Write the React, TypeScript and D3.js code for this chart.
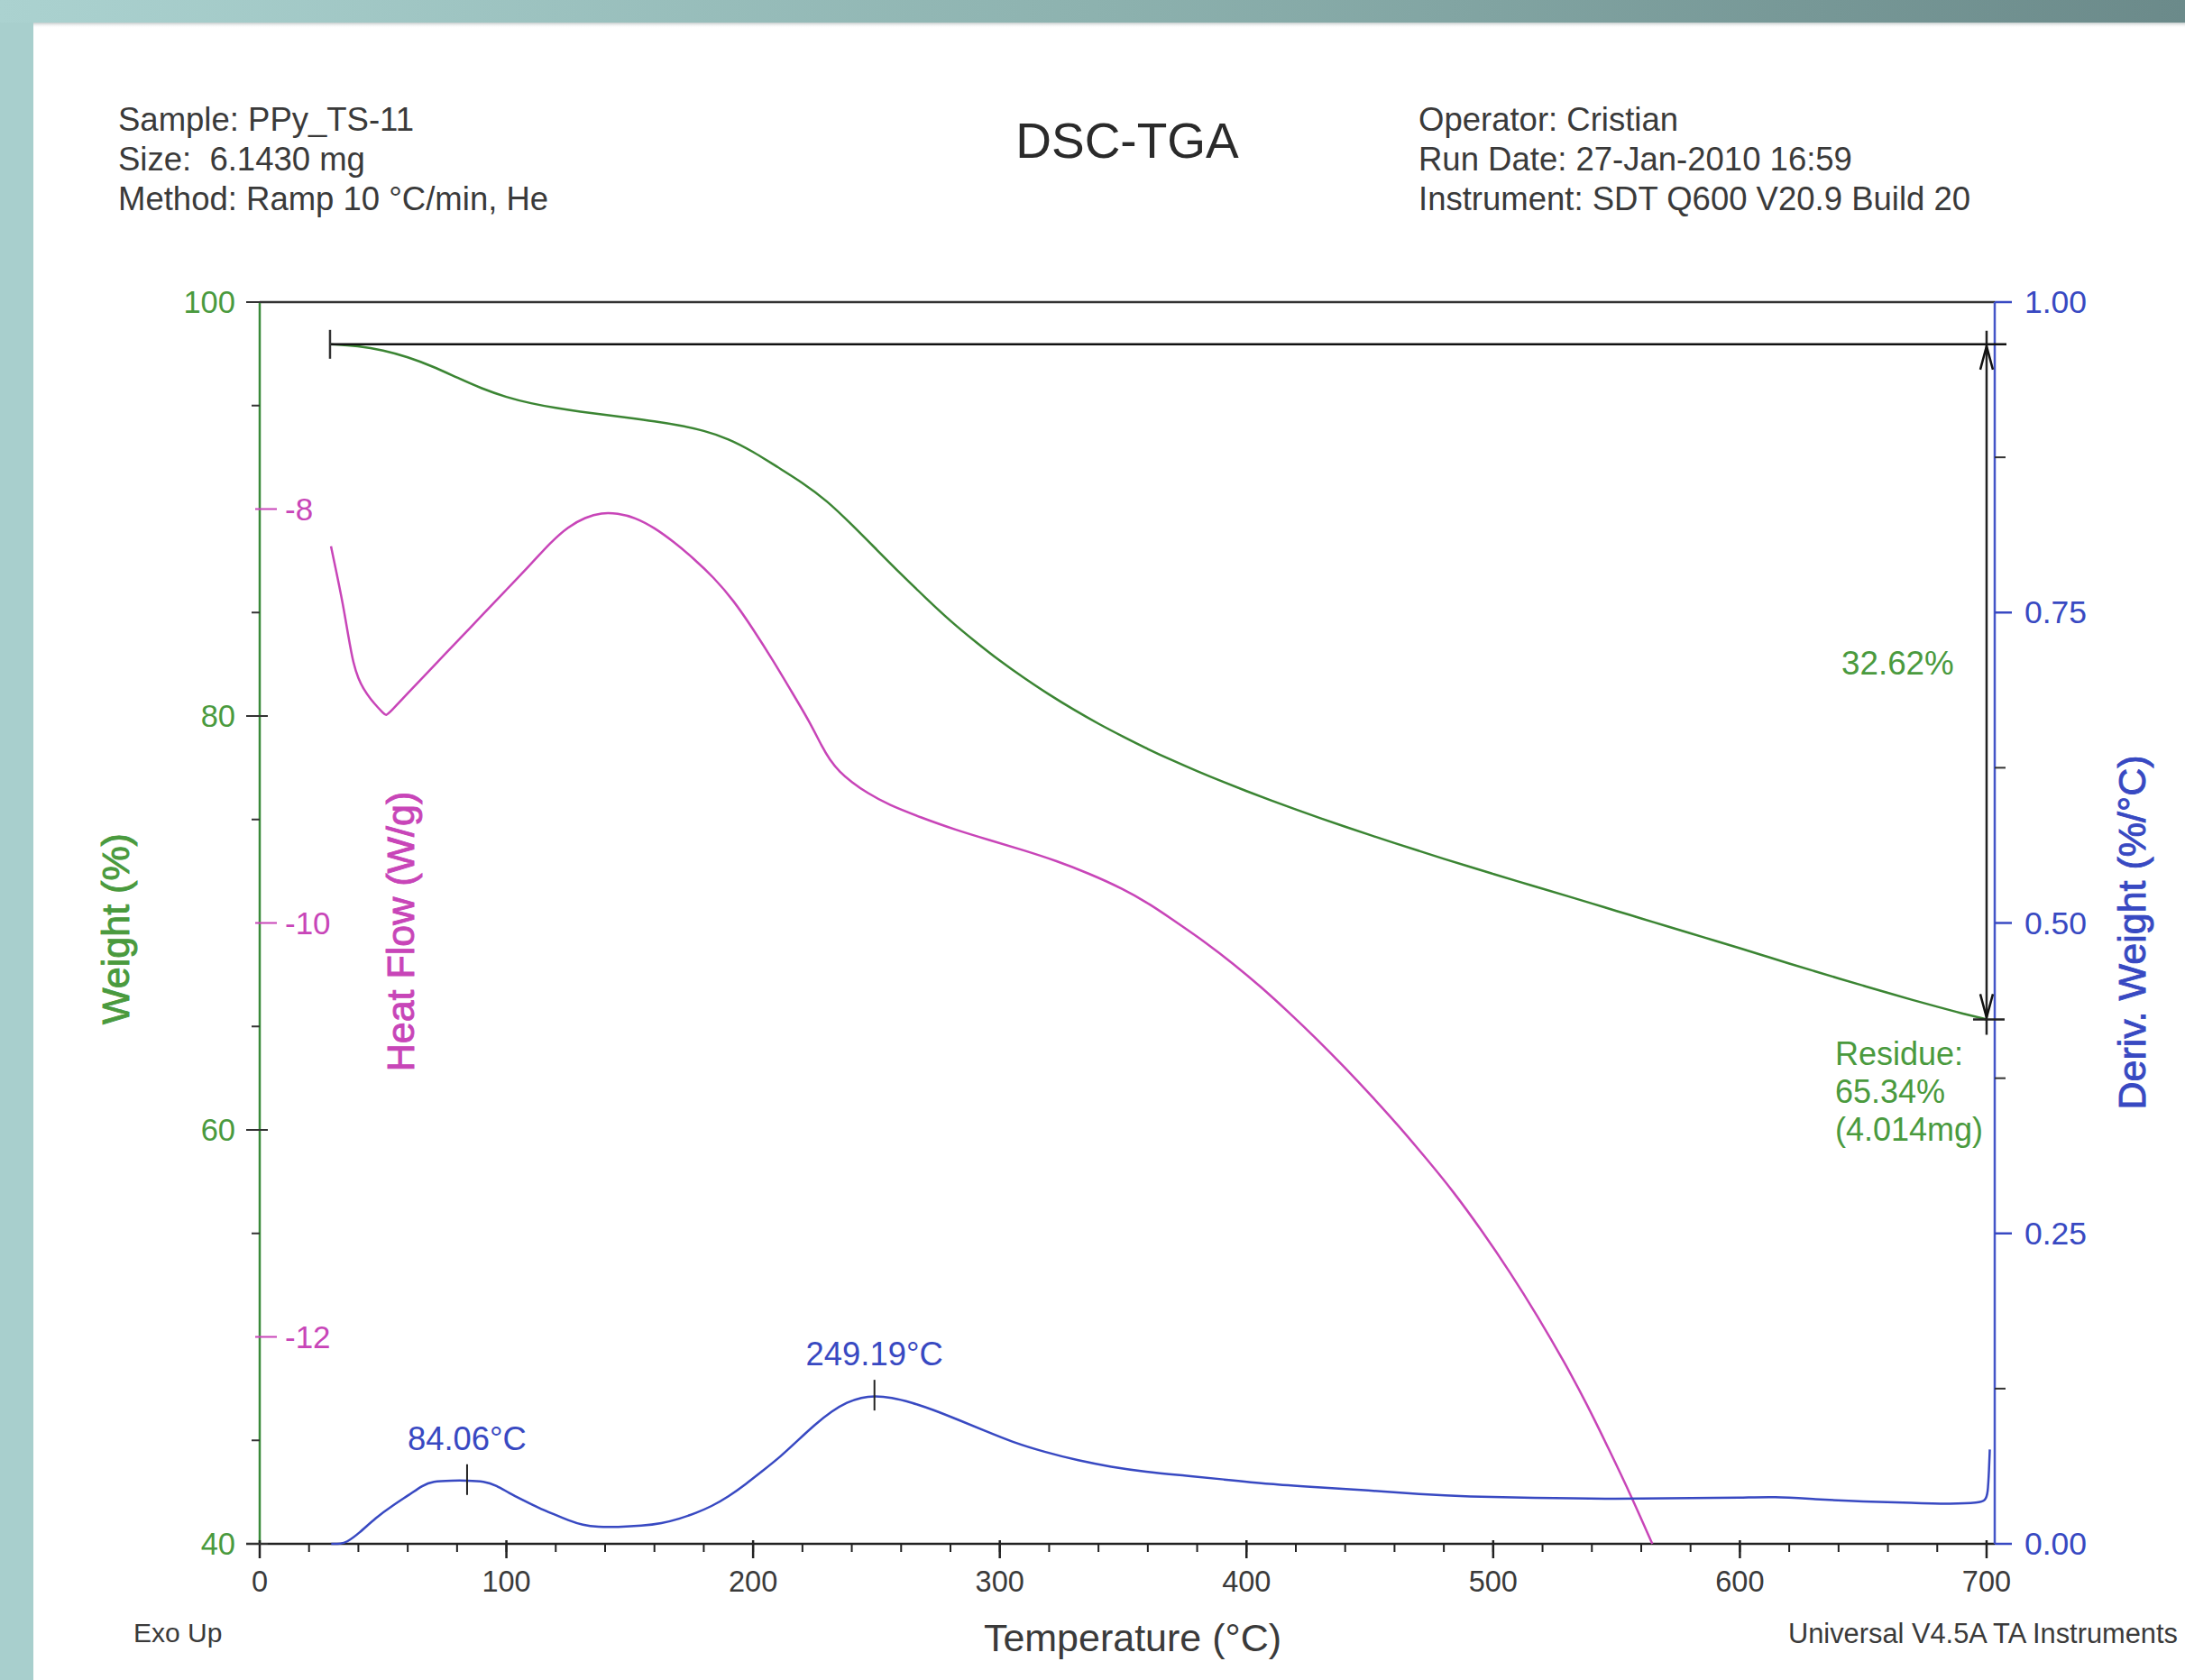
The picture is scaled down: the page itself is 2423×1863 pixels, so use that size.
import React from "react";
import * as d3 from "d3";

// ---------- data ----------
const headerLeft = ["Sample: PPy_TS-11", "Size:  6.1430 mg", "Method: Ramp 10 °C/min, He"];
const headerRight = ["Operator: Cristian", "Run Date: 27-Jan-2010 16:59", "Instrument: SDT Q600 V20.9 Build 20"];
const chartTitle = "DSC-TGA";

// Weight (%) vs Temperature (°C)
const weightCurve: [number, number][] = [
  [28.5, 97.96], [40, 97.88], [50, 97.68], [60, 97.35], [70, 96.9], [80, 96.35], [90, 95.82],
  [100, 95.4], [110, 95.1], [120, 94.88], [130, 94.7], [140, 94.55], [150, 94.4], [160, 94.24],
  [170, 94.05], [180, 93.8], [190, 93.4], [200, 92.78], [210, 92.02], [220, 91.28], [230, 90.4],
  [240, 89.25], [250, 88.05], [260, 86.85], [270, 85.7], [280, 84.58], [290, 83.6], [300, 82.66],
  [310, 81.82], [320, 81.03], [330, 80.3], [340, 79.62], [350, 79.0], [360, 78.4], [370, 77.85],
  [380, 77.33], [390, 76.84], [400, 76.37], [410, 75.92], [420, 75.48], [430, 75.06], [440, 74.65],
  [450, 74.25], [460, 73.86], [470, 73.48], [480, 73.1], [490, 72.73], [500, 72.37], [510, 72.01],
  [520, 71.66], [530, 71.3], [540, 70.94], [550, 70.58], [560, 70.22], [570, 69.86], [580, 69.5],
  [590, 69.14], [600, 68.78], [610, 68.41], [620, 68.04], [630, 67.68], [640, 67.32], [650, 66.97],
  [660, 66.62], [670, 66.28], [680, 65.95], [690, 65.63], [700, 65.34],
];

// Heat Flow (W/g) vs Temperature (°C)
const heatFlowCurve: [number, number][] = [
  [28.9, -8.18], [31, -8.3], [33.6, -8.45], [36, -8.62], [38, -8.75], [40, -8.82], [42.1, -8.87],
  [45, -8.92], [48, -8.96], [50, -8.985], [51.2, -9.0], [53, -8.98], [60, -8.89], [70, -8.765],
  [80, -8.64], [90, -8.515], [100, -8.39], [110, -8.265], [118, -8.16], [125, -8.085], [132, -8.04],
  [138.6, -8.017], [145, -8.02], [152, -8.04], [160, -8.09], [168, -8.16], [176, -8.24], [184, -8.33],
  [192, -8.44], [200, -8.58], [208, -8.73], [216, -8.89], [223, -9.03], [228, -9.15], [231, -9.21],
  [235, -9.27], [240, -9.32], [246, -9.37], [255, -9.43], [268, -9.49], [282, -9.55], [296, -9.6],
  [310, -9.65], [323, -9.7], [336, -9.76], [350, -9.835], [361, -9.91], [372, -10.0], [383, -10.09],
  [395, -10.2], [406, -10.31], [417, -10.43], [428, -10.555], [440, -10.7], [451, -10.84],
  [462, -10.985], [473, -11.14], [484, -11.3], [495, -11.48], [507, -11.69], [518, -11.9],
  [529, -12.125], [538, -12.325], [547, -12.545], [556, -12.77], [564.5, -13.0],
];

// Deriv. Weight (%/°C) vs Temperature (°C)
const derivCurve: [number, number][] = [
  [29, 0.0], [33, 0.0], [35, 0.001], [40, 0.008], [47, 0.021], [54, 0.031], [61, 0.04], [66, 0.047],
  [70, 0.0505], [78, 0.051], [84.06, 0.051], [91, 0.0505], [96, 0.047], [101, 0.041], [107, 0.035],
  [113, 0.029], [119, 0.024], [125, 0.019], [131, 0.015], [137, 0.0135], [145, 0.0135], [155, 0.0145],
  [163, 0.0165], [170, 0.02], [177, 0.025], [183, 0.03], [190, 0.038], [197, 0.048], [204, 0.059],
  [211, 0.07], [218, 0.083], [225, 0.096], [232, 0.107], [238, 0.114], [244, 0.118], [249.19, 0.119],
  [256, 0.118], [264, 0.114], [273, 0.108], [283, 0.1], [294, 0.091], [305, 0.082], [318, 0.074],
  [332, 0.067], [345, 0.062], [359, 0.058], [375, 0.055], [390, 0.052], [410, 0.048], [426, 0.046],
  [450, 0.043], [470, 0.04], [490, 0.038], [515, 0.037], [550, 0.036], [583, 0.037], [600, 0.037],
  [614, 0.038], [630, 0.036], [650, 0.034], [670, 0.033], [686, 0.032], [697, 0.033], [699.5, 0.035],
  [700.5, 0.04], [701, 0.06], [701.3, 0.076],
];

const derivPeaks = [84.06, 249.19];
const startWeight = 97.96;
const residueWeight = 65.34;
const startTemp = 28.5;
const endTemp = 700;
const weightLossLabel = "32.62%";
const residueLabel = ["Residue:", "65.34%", "(4.014mg)"];

const xMajorTicks = [0, 100, 200, 300, 400, 500, 600, 700];
const weightMajorTicks = [40, 60, 80, 100];
const weightMinorTicks = [45, 55, 65, 75, 85, 95];
const heatTicks = [-12, -10, -8];
const derivMajorTicks = [0, 0.25, 0.5, 0.75, 1.0];
const derivMinorTicks = [0.125, 0.375, 0.625, 0.875];

// ---------- style ----------
const W = 2423;
const H = 1863;
const FONT = "'Liberation Sans', Arial, Helvetica, sans-serif";
const GREEN_LINE = "#3b8533";
const GREEN_TEXT = "#4a9a3e";
const MAGENTA = "#c845b8";
const BLUE = "#3849c2";
const DARK = "#3a3a3a";

const plot = { left: 288, right: 2212, top: 335, bottom: 1712 };

export default function App() {
  const x = d3.scaleLinear().domain([0, 703.3]).range([plot.left, plot.right]);
  const yW = d3.scaleLinear().domain([40, 100]).range([plot.bottom, plot.top]);
  const yH = d3.scaleLinear().domain([-13, -7]).range([plot.bottom, plot.top]);
  const yD = d3.scaleLinear().domain([0, 1]).range([plot.bottom, plot.top]);
  const xMinor = d3.range(0, 701, 20);

  const lineW = d3.line<[number, number]>().x((d) => x(d[0])).y((d) => yW(d[1])).curve(d3.curveBasis);
  const lineH = d3.line<[number, number]>().x((d) => x(d[0])).y((d) => yH(d[1])).curve(d3.curveBasis);
  const lineD = d3.line<[number, number]>().x((d) => x(d[0])).y((d) => yD(d[1])).curve(d3.curveBasis);

  const fmt2 = d3.format(".2f");
  const derivAt = (t: number) => {
    const i = d3.bisector((d: [number, number]) => d[0]).left(derivCurve, t);
    const a = derivCurve[Math.max(0, i - 1)];
    const b = derivCurve[Math.min(derivCurve.length - 1, i)];
    if (a[0] === b[0]) return a[1];
    return a[1] + ((b[1] - a[1]) * (t - a[0])) / (b[0] - a[0]);
  };

  const yStart = yW(startWeight);
  const yRes = yW(residueWeight);
  const xEnd = x(endTemp);
  const titleStyle = { paintOrder: "stroke" as const };

  return (
    <svg
      width={W}
      height={H}
      style={{ position: "absolute", left: 0, top: 0, display: "block" }}
      fontFamily={FONT}
    >
      <defs>
        <linearGradient id="topband" x1="0" x2="1" y1="0" y2="0">
          <stop offset="0" stopColor="#abd2d0" />
          <stop offset="0.5" stopColor="#8db2af" />
          <stop offset="1" stopColor="#6b8a8a" />
        </linearGradient>
        <linearGradient id="shadow" x1="0" x2="0" y1="0" y2="1">
          <stop offset="0" stopColor="#9aa8a8" stopOpacity="0.6" />
          <stop offset="1" stopColor="#ffffff" stopOpacity="0" />
        </linearGradient>
      </defs>

      {/* background */}
      <rect x={0} y={0} width={W} height={H} fill="#ffffff" />
      <rect x={0} y={0} width={37} height={H} fill="#a8cfcd" />
      <rect x={0} y={0} width={W} height={25} fill="url(#topband)" />
      <rect x={37} y={25} width={W - 37} height={6} fill="url(#shadow)" />

      {/* header */}
      <g fontSize={36.5} fill={DARK}>
        {headerLeft.map((t, i) => (
          <text key={"hl" + i} x={131} y={145 + i * 44} style={{ whiteSpace: "pre" }}>
            {t}
          </text>
        ))}
        {headerRight.map((t, i) => (
          <text key={"hr" + i} x={1573} y={145 + i * 44} style={{ whiteSpace: "pre" }}>
            {t}
          </text>
        ))}
      </g>
      <text x={1250} y={175} fontSize={55} fill="#2a2a2a" textAnchor="middle">
        {chartTitle}
      </text>

      {/* frame lines */}
      <line x1={plot.left} x2={plot.right} y1={plot.top} y2={plot.top} stroke="#333" strokeWidth={2.5} />
      <line x1={plot.left - 15} x2={plot.right} y1={plot.bottom} y2={plot.bottom} stroke="#222" strokeWidth={2.5} />
      <line x1={plot.left} x2={plot.left} y1={plot.top} y2={plot.bottom} stroke="#3a8a3a" strokeWidth={2.5} />
      <line x1={plot.right} x2={plot.right} y1={plot.top} y2={plot.bottom} stroke="#4455c8" strokeWidth={2.5} />

      {/* x ticks */}
      {xMinor.map((t) => (
        <line key={"xm" + t} x1={x(t)} x2={x(t)} y1={plot.bottom} y2={plot.bottom + 9} stroke="#222" strokeWidth={2} />
      ))}
      {xMajorTicks.map((t) => (
        <g key={"xM" + t}>
          <line x1={x(t)} x2={x(t)} y1={plot.bottom - 4} y2={plot.bottom + 16} stroke="#222" strokeWidth={2.5} />
          <text x={x(t)} y={1765} fontSize={32.5} fill={DARK} textAnchor="middle">
            {t}
          </text>
        </g>
      ))}

      {/* weight axis ticks */}
      {weightMinorTicks.map((t) => (
        <line key={"wm" + t} x1={plot.left - 9} x2={plot.left} y1={yW(t)} y2={yW(t)} stroke="#333" strokeWidth={2} />
      ))}
      {weightMajorTicks.map((t) => (
        <g key={"wM" + t}>
          <line x1={plot.left - 15} x2={plot.left + 9} y1={yW(t)} y2={yW(t)} stroke="#333" strokeWidth={2} />
          <text x={261} y={yW(t) + 12} fontSize={34.5} fill={GREEN_TEXT} textAnchor="end">
            {t}
          </text>
        </g>
      ))}

      {/* heat flow ticks */}
      {heatTicks.map((t) => (
        <g key={"h" + t}>
          <line x1={plot.left - 5} x2={plot.left + 19} y1={yH(t)} y2={yH(t)} stroke={MAGENTA} strokeWidth={2} />
          <text x={316} y={yH(t) + 12} fontSize={35} fill={MAGENTA}>
            {t}
          </text>
        </g>
      ))}

      {/* deriv ticks */}
      {derivMinorTicks.map((t) => (
        <line key={"dm" + t} x1={plot.right} x2={plot.right + 12} y1={yD(t)} y2={yD(t)} stroke="#333" strokeWidth={2} />
      ))}
      {derivMajorTicks.map((t) => (
        <g key={"dM" + t}>
          <line x1={plot.right} x2={plot.right + 19} y1={yD(t)} y2={yD(t)} stroke={BLUE} strokeWidth={2.5} />
          <text x={2245} y={yD(t) + 12} fontSize={35.5} fill={BLUE}>
            {fmt2(t)}
          </text>
        </g>
      ))}

      {/* axis titles */}
      <text
        transform={`translate(128,1030) rotate(-90)`}
        fontSize={43}
        fill={GREEN_TEXT}
        stroke={GREEN_TEXT}
        strokeWidth={0.9}
        style={titleStyle}
        textAnchor="middle"
        dominantBaseline="central"
      >
        Weight (%)
      </text>
      <text
        transform={`translate(444,1033) rotate(-90)`}
        fontSize={43}
        fill={MAGENTA}
        stroke={MAGENTA}
        strokeWidth={0.9}
        style={titleStyle}
        textAnchor="middle"
        dominantBaseline="central"
      >
        Heat Flow (W/g)
      </text>
      <text
        transform={`translate(2364,1034) rotate(-90)`}
        fontSize={43}
        fill={BLUE}
        stroke={BLUE}
        strokeWidth={0.9}
        style={titleStyle}
        textAnchor="middle"
        dominantBaseline="central"
      >
        Deriv. Weight (%/°C)
      </text>
      <text x={1256} y={1831} fontSize={43} fill={DARK} textAnchor="middle">
        Temperature (°C)
      </text>
      <text x={148} y={1821} fontSize={30} fill={DARK}>
        Exo Up
      </text>
      <text x={1983} y={1822} fontSize={30.8} fill={DARK}>
        Universal V4.5A TA Instruments
      </text>

      {/* curves */}
      <path d={lineW(weightCurve) || ""} fill="none" stroke={GREEN_LINE} strokeWidth={2.5} />
      <path d={lineH(heatFlowCurve) || ""} fill="none" stroke={MAGENTA} strokeWidth={2.5} />
      <path d={lineD(derivCurve) || ""} fill="none" stroke={BLUE} strokeWidth={2.5} />

      {/* weight-loss annotation */}
      <line x1={x(startTemp)} x2={plot.right + 13} y1={yStart} y2={yStart} stroke="#111" strokeWidth={2.5} />
      <line x1={x(startTemp)} x2={x(startTemp)} y1={yStart - 16} y2={yStart + 16} stroke="#333" strokeWidth={2.5} />
      <line x1={xEnd} x2={xEnd} y1={yStart - 15} y2={yRes + 17} stroke="#222" strokeWidth={2.5} />
      <path
        d={`M${xEnd - 7},${yStart + 28} L${xEnd},${yStart + 2} L${xEnd + 7},${yStart + 28}`}
        fill="none"
        stroke="#111"
        strokeWidth={2.5}
      />
      <path
        d={`M${xEnd - 7},${yRes - 28} L${xEnd},${yRes - 2} L${xEnd + 7},${yRes - 28}`}
        fill="none"
        stroke="#111"
        strokeWidth={2.5}
      />
      <line x1={xEnd - 15} x2={xEnd + 20} y1={yRes} y2={yRes} stroke="#222" strokeWidth={2.5} />
      <text x={2042} y={748} fontSize={36.8} fill={GREEN_TEXT}>
        {weightLossLabel}
      </text>
      {residueLabel.map((t, i) => (
        <text key={"r" + i} x={2035} y={1181 + i * 42} fontSize={36} fill={GREEN_TEXT}>
          {t}
        </text>
      ))}

      {/* peak markers */}
      {derivPeaks.map((t) => {
        const py = yD(derivAt(t));
        return (
          <g key={"p" + t}>
            <line x1={x(t)} x2={x(t)} y1={py - 18} y2={py + 16} stroke="#222" strokeWidth={2} />
            <text x={x(t)} y={py - 34} fontSize={36.4} fill={BLUE} textAnchor="middle">
              {t.toFixed(2)}°C
            </text>
          </g>
        );
      })}
    </svg>
  );
}
